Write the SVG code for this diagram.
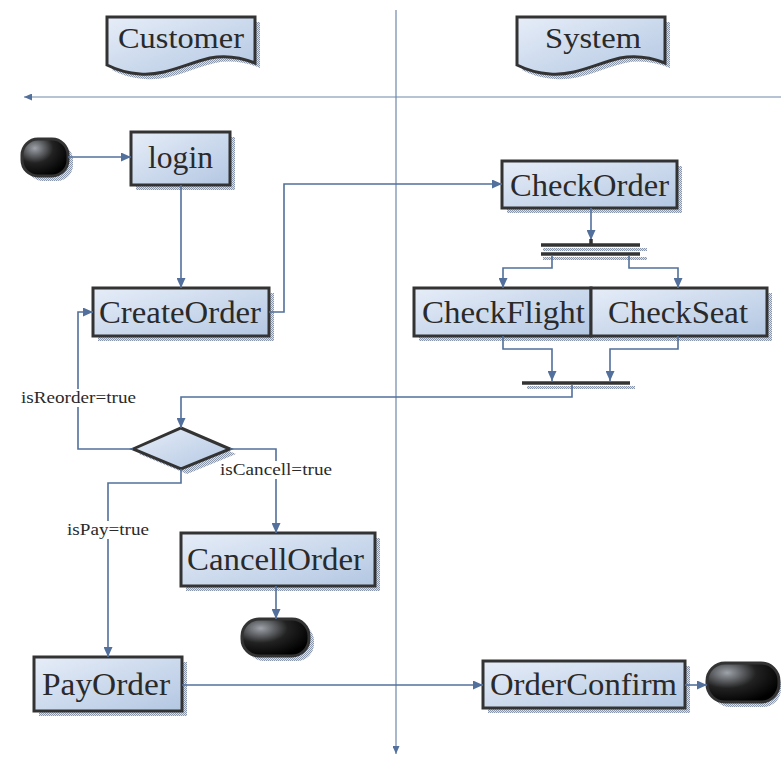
<svg xmlns="http://www.w3.org/2000/svg" width="781" height="757" viewBox="0 0 781 757">
<defs>
  <linearGradient id="boxg" x1="0" y1="0" x2="1" y2="1">
    <stop offset="0" stop-color="#e6edf8"/>
    <stop offset="1" stop-color="#b3c7e2"/>
  </linearGradient>
  <radialGradient id="pillg" cx="0.28" cy="0.25" r="0.8">
    <stop offset="0" stop-color="#9ea3aa"/>
    <stop offset="0.5" stop-color="#222"/>
    <stop offset="1" stop-color="#000"/>
  </radialGradient>
  <pattern id="hatch" width="2" height="2" patternUnits="userSpaceOnUse">
    <rect width="2" height="2" fill="#dde2ea"/>
    <rect width="1" height="1" fill="#8a96aa"/>
    <rect x="1" y="1" width="1" height="1" fill="#8a96aa"/>
  </pattern>
  <marker id="arr" markerUnits="userSpaceOnUse" markerWidth="10" markerHeight="9" refX="10" refY="4.5" orient="auto">
    <path d="M0,0 L10,4.5 L0,9 Z" fill="#52709b"/>
  </marker>
  <marker id="arrs" markerUnits="userSpaceOnUse" markerWidth="8" markerHeight="7" refX="8" refY="3.5" orient="auto">
    <path d="M0,0 L8,3.5 L0,7 Z" fill="#52709b"/>
  </marker>
  <style>
    .box{fill:url(#boxg);stroke:#333;stroke-width:3}
    .sh{fill:url(#hatch)}
    .pill{fill:url(#pillg);stroke:#333;stroke-width:3}
    text{font-family:"Liberation Serif",serif;fill:#2a2a2a}
    .lbl{font-size:32px}
    .el{font-size:17px}
    .c{fill:none;stroke:#52709b;stroke-width:1.6;marker-end:url(#arr)}
    .lane{fill:none;stroke:#6f87aa;stroke-width:1.2;marker-end:url(#arrs)}
    .bar{stroke:#333;stroke-width:3.5}
  </style>
</defs>

<g id="lanes">
  <path class="lane" d="M396,10 V754"/>
  <path class="lane" d="M781,97 H24"/>
</g>

<g id="customer-header">
  <path class="sh" transform="translate(5,5)" d="M107,17 H255 V63 C240,57 225,55 210,58 C185,64 165,76 140,74 C125,73 115,69 107,65 Z"/>
  <path class="box" d="M107,17 H255 V63 C240,57 225,55 210,58 C185,64 165,76 140,74 C125,73 115,69 107,65 Z"/>
  <text class="lbl" x="118" y="48" textLength="126" lengthAdjust="spacingAndGlyphs" style="font-size:30px">Customer</text>
</g>
<g id="system-header">
  <path class="sh" transform="translate(415,5)" d="M107,17 H255 V63 C240,57 225,55 210,58 C185,64 165,76 140,74 C125,73 115,69 107,65 Z"/>
  <path class="box" transform="translate(410,0)" d="M107,17 H255 V63 C240,57 225,55 210,58 C185,64 165,76 140,74 C125,73 115,69 107,65 Z"/>
  <text class="lbl" x="545" y="48" textLength="96" lengthAdjust="spacingAndGlyphs" style="font-size:30px">System</text>
</g>

<g id="start">
  <rect class="sh" x="27" y="144" width="46" height="37" rx="16"/>
  <rect class="pill" x="22" y="139" width="46" height="37" rx="16"/>
</g>

<g id="login">
  <rect class="sh" x="136" y="137" width="99" height="53"/>
  <rect class="box" x="131" y="132" width="99" height="53"/>
  <text class="lbl" x="148" y="168" textLength="65" lengthAdjust="spacingAndGlyphs">login</text>
</g>

<g id="createorder">
  <rect class="sh" x="98" y="293" width="176" height="48"/>
  <rect class="box" x="93" y="288" width="176" height="48"/>
  <text class="lbl" x="99" y="323" textLength="162" lengthAdjust="spacingAndGlyphs">CreateOrder</text>
</g>

<g id="checkorder">
  <rect class="sh" x="507" y="166" width="175" height="47"/>
  <rect class="box" x="502" y="161" width="175" height="47"/>
  <text class="lbl" x="510" y="196" textLength="159" lengthAdjust="spacingAndGlyphs">CheckOrder</text>
</g>

<g id="fork">
  <rect class="sh" x="543" y="248" width="104" height="3"/>
  <rect class="sh" x="543" y="257" width="104" height="3"/>
  <line class="bar" x1="541" y1="245" x2="640" y2="245"/>
  <line class="bar" x1="541" y1="254" x2="640" y2="254"/>
</g>

<g id="checkflight">
  <rect class="sh" x="419" y="293" width="177" height="48"/>
  <rect class="box" x="414" y="288" width="177" height="48"/>
  <text class="lbl" x="422" y="323" textLength="163" lengthAdjust="spacingAndGlyphs">CheckFlight</text>
</g>

<g id="checkseat">
  <rect class="sh" x="596" y="293" width="176" height="48"/>
  <rect class="box" x="591" y="288" width="176" height="48"/>
  <text class="lbl" x="608" y="323" textLength="140" lengthAdjust="spacingAndGlyphs">CheckSeat</text>
</g>

<g id="join">
  <rect class="sh" x="527" y="386" width="108" height="3"/>
  <line class="bar" x1="522" y1="383" x2="630" y2="383"/>
</g>

<g id="decision">
  <polygon class="sh" points="139,454 187,433 236,454 187,474"/>
  <polygon class="box" points="133,449 181,428 230,449 181,469"/>
</g>

<g id="cancellorder">
  <rect class="sh" x="186" y="538" width="194" height="53"/>
  <rect class="box" x="181" y="533" width="194" height="53"/>
  <text class="lbl" x="187" y="570" textLength="177" lengthAdjust="spacingAndGlyphs">CancellOrder</text>
</g>

<g id="end-cancel">
  <rect class="sh" x="247" y="624" width="67" height="37" rx="17"/>
  <rect class="pill" x="242" y="619" width="67" height="37" rx="17"/>
</g>

<g id="payorder">
  <rect class="sh" x="39" y="662" width="148" height="54"/>
  <rect class="box" x="34" y="657" width="148" height="54"/>
  <text class="lbl" x="42" y="695" textLength="128" lengthAdjust="spacingAndGlyphs">PayOrder</text>
</g>

<g id="orderconfirm">
  <rect class="sh" x="488" y="666" width="202" height="47"/>
  <rect class="box" x="483" y="661" width="202" height="47"/>
  <text class="lbl" x="490" y="695" textLength="187" lengthAdjust="spacingAndGlyphs">OrderConfirm</text>
</g>

<g id="end-confirm">
  <rect class="sh" x="712" y="668" width="69" height="39" rx="18"/>
  <rect class="pill" x="707" y="663" width="72" height="39" rx="18"/>
</g>

<g id="connectors">
  <path class="c" d="M68,157 H131"/>
  <path class="c" d="M181,185 V288"/>
  <path class="c" d="M269,312 H284 V184 H502"/>
  <path class="c" d="M591,208 V240"/>
  <line class="bar" x1="591" y1="239" x2="591" y2="245"/>
  <path class="c" d="M552,255 V268 H503 V288"/>
  <path class="c" d="M629,255 V268 H678 V288"/>
  <path class="c" d="M503,336 V349 H552 V381"/>
  <path class="c" d="M678,336 V349 H610 V381"/>
  <path class="c" d="M572,385 V397 H181 V428"/>
  <path class="c" d="M133,449 H78 V312 H93"/>
  <path class="c" d="M230,449 H276 V533"/>
  <path class="c" d="M181,469 V483 H108 V657"/>
  <path class="c" d="M276,586 V619"/>
  <path class="c" d="M182,685 H483"/>
  <path class="c" d="M685,685 H707"/>
</g>

<g id="edge-labels">
  <rect x="20" y="389" width="118" height="18" fill="#fff"/>
  <text class="el" x="21" y="403" textLength="115" lengthAdjust="spacingAndGlyphs">isReorder=true</text>
  <rect x="219" y="461" width="114" height="18" fill="#fff"/>
  <text class="el" x="220" y="475" textLength="112" lengthAdjust="spacingAndGlyphs">isCancell=true</text>
  <rect x="66" y="521" width="84" height="18" fill="#fff"/>
  <text class="el" x="67" y="535" textLength="82" lengthAdjust="spacingAndGlyphs">isPay=true</text>
</g>
</svg>
